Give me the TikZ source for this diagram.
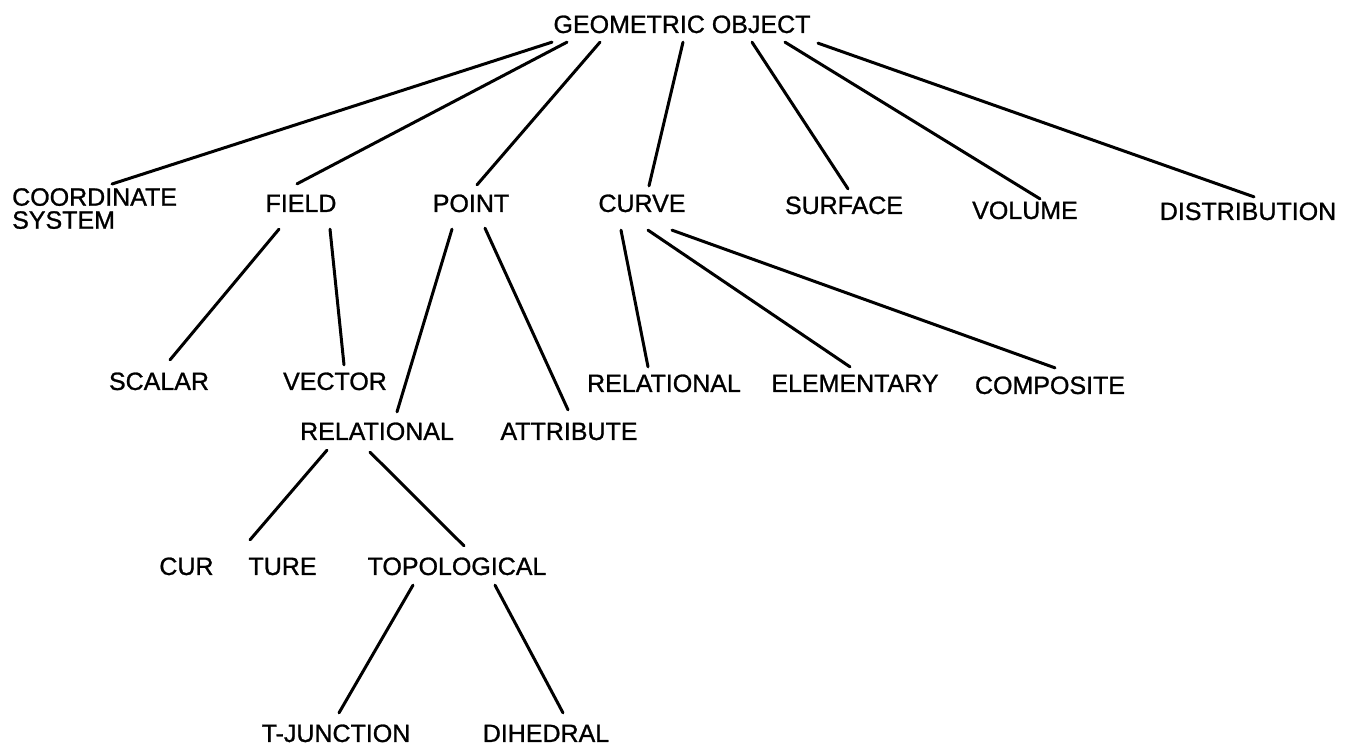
\documentclass[tikz,border=0pt]{standalone}
\usepackage{fontspec}
\setmainfont{Liberation Sans}[FakeBold=1]
\usetikzlibrary{calc}
\tikzset{
  lbl/.style={inner sep=0pt, text height=17.9pt, text depth=0pt,
              font=\fontsize{25}{23}\selectfont},
  link/.style={line width=3pt, line cap=round},
}
\begin{document}
\begin{tikzpicture}[x=1pt,y=-1pt]
\useasboundingbox[fill=white] (0,0) rectangle (1345,748);

% root
\node[lbl] (geo) at (682,24) {GEOMETRIC OBJECT};

% first level
\node[inner sep=0pt, anchor=north west, align=left,
      font=\fontsize{25}{23}\selectfont] (coord) at (12,188) {COORDINATE\\SYSTEM};
\node[lbl] (field)   at (301,203)  {FIELD};
\node[lbl] (point)   at (471,203)  {POINT};
\node[lbl] (curve)   at (642,203)  {CURVE};
\node[lbl] (surface) at (844,205)  {SURFACE};
\node[lbl] (volume)  at (1025,210) {VOLUME};
\node[lbl] (distr)   at (1248,211) {DISTRIBUTION};

% second level
\node[lbl] (scalar) at (159,381)  {SCALAR};
\node[lbl] (vector) at (335,381)  {VECTOR};
\node[lbl] (prel)   at (377,431)  {RELATIONAL};
\node[lbl] (attr)   at (569,431)  {ATTRIBUTE};
\node[lbl] (crel)   at (664,383)  {RELATIONAL};
\node[lbl] (elem)   at (855,383)  {ELEMENTARY};
\node[lbl] (comp)   at (1050,385) {COMPOSITE};

% third level
\node[lbl] (curv) at (238,566) {CUR\hspace{35pt}TURE};
\node[lbl] (topo) at (457,566) {TOPOLOGICAL};

% fourth level
\node[lbl] (tj)  at (336,733) {T-JUNCTION};
\node[lbl] (dih) at (546,733) {DIHEDRAL};

% root branches
\draw[link] ($(geo.south)+(-130,9)$) -- ($(coord.north west)+(100,-4)$);
\draw[link] ($(geo.south)+(-115,9)$) -- ($(field.north)+(-4,-10)$);
\draw[link] ($(geo.south)+(-82,9)$)  -- ($(point.north)+(6,-9)$);
\draw[link] ($(geo.south)+(1,9)$)    -- ($(curve.north)+(7,-8)$);
\draw[link] ($(geo.south)+(70,9)$)   -- ($(surface.north)+(4,-7)$);
\draw[link] ($(geo.south)+(103,9)$)  -- ($(volume.north)+(15,-2)$);
\draw[link] ($(geo.south)+(136,10)$) -- ($(distr.north)+(6,-5)$);

% field
\draw[link] ($(field.south)+(-22,17)$) -- ($(scalar.north)+(11,-12)$);
\draw[link] ($(field.south)+(29,17)$)  -- ($(vector.north)+(9,-7)$);

% point
\draw[link] ($(point.south)+(-19,17)$) -- ($(prel.north)+(20,-10)$);
\draw[link] ($(point.south)+(14,16)$)  -- ($(attr.north)+(-1,-12)$);

% curve
\draw[link] ($(curve.south)+(-21,18)$) -- ($(crel.north)+(-16,-7)$);
\draw[link] ($(curve.south)+(6,18)$)   -- ($(elem.north)+(-5,-7)$);
\draw[link] ($(curve.south)+(30,18)$)  -- ($(comp.north)+(5,-8)$);

% relational (point)
\draw[link] ($(prel.south)+(-50,10)$) -- ($(curv.north)+(12,-17)$);
\draw[link] ($(prel.south)+(-7,12)$)  -- ($(topo.north)+(7,-11)$);

% topological
\draw[link] ($(topo.south)+(-44,10)$) -- ($(tj.north)+(3,-11)$);
\draw[link] ($(topo.south)+(38,10)$)  -- ($(dih.north)+(17,-11)$);
\end{tikzpicture}
\end{document}
